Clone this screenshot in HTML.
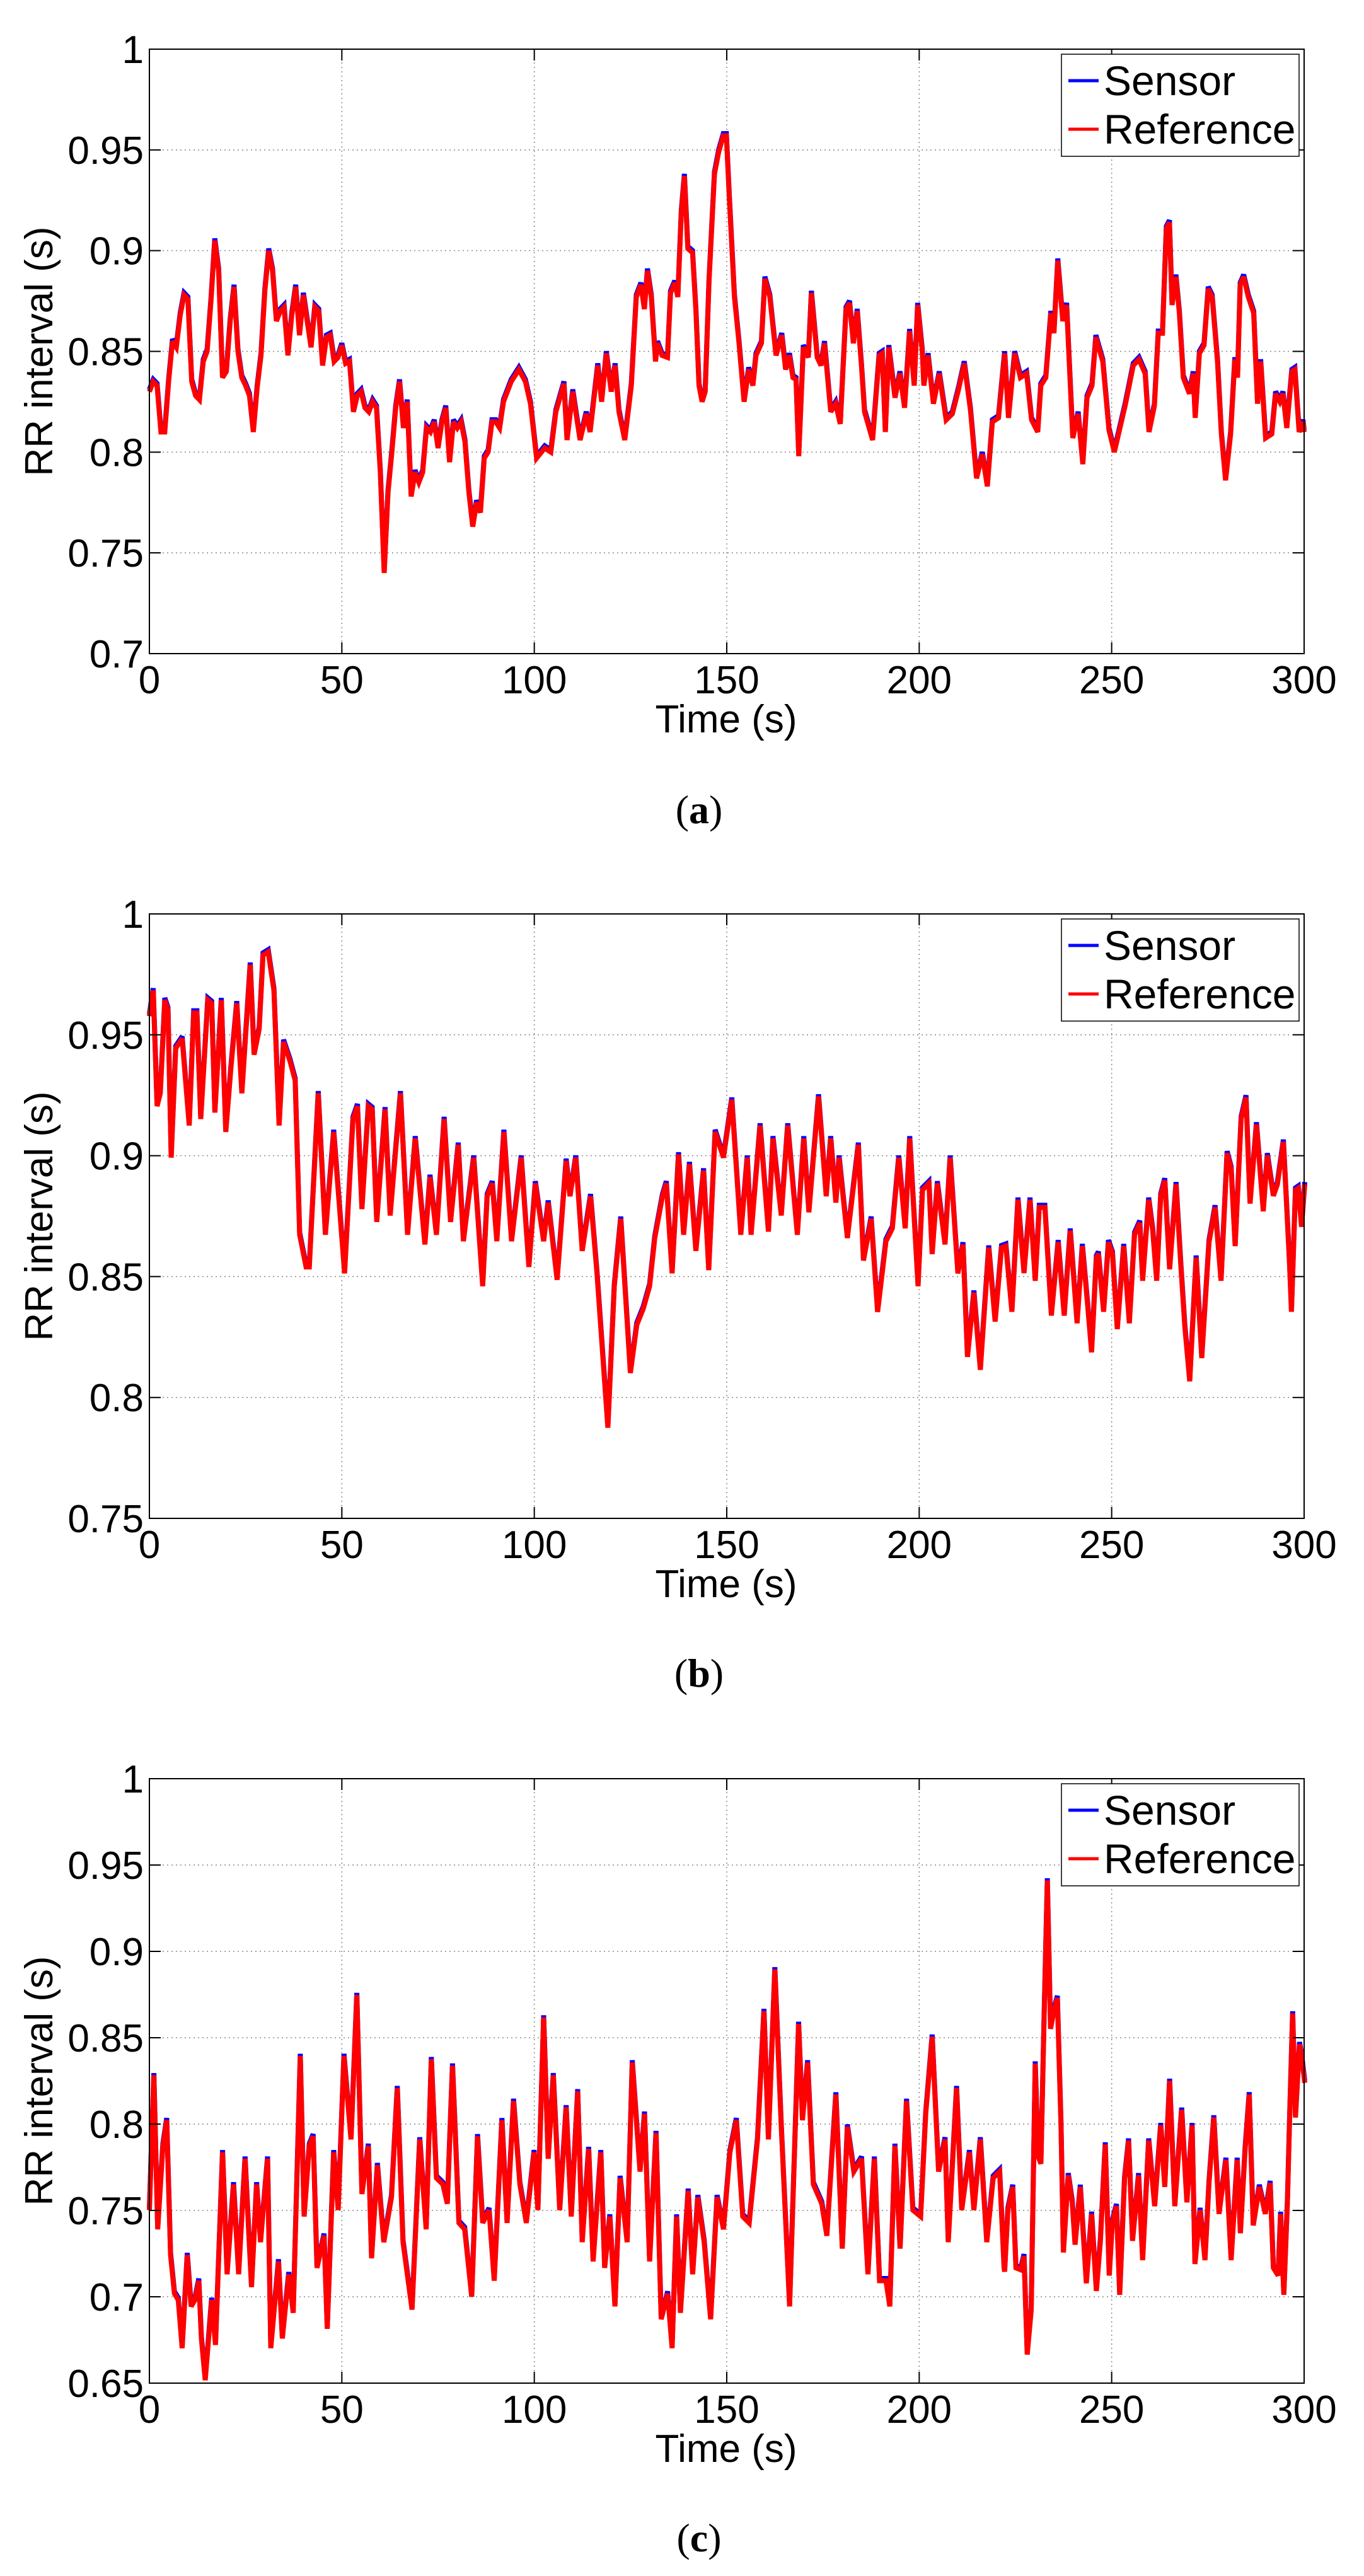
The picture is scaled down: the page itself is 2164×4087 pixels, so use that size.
<!DOCTYPE html>
<html><head><meta charset="utf-8"><style>
html,body{margin:0;padding:0;background:#fff;}
svg{display:block;}
text{font-family:"Liberation Sans",Arial,sans-serif;fill:#000;}
.cap{font-family:"Liberation Serif",serif;font-size:64px;}
</style></head><body>
<svg id="s" xmlns="http://www.w3.org/2000/svg" width="2164" height="4087" viewBox="0 0 2164 4087">
<rect width="2164" height="4087" fill="#fff"/>
<g id="g"></g>
<text class="cap" x="1109" y="1306" text-anchor="middle">(<tspan font-weight="bold">a</tspan>)</text>
<text class="cap" x="1109" y="2676" text-anchor="middle">(<tspan font-weight="bold">b</tspan>)</text>
<text class="cap" x="1109" y="4048" text-anchor="middle">(<tspan font-weight="bold">c</tspan>)</text>
</svg>
<script>
var A=[[0,.83],[1,.835],[2,.833],[3,.81],[4,.81],[5,.835],[6,.855],[7,.852],[8,.868],[9,.878],[10,.876],[11,.835],[12,.828],[13,.826],[14,.845],[15,.85],[16,.875],[17,.905],[18,.89],[19,.837],[20,.84],[21,.865],[22,.882],[23,.85],[24,.837],[25,.833],[26,.828],[27,.81],[28,.832],[29,.848],[30,.88],[31,.9],[32,.89],[33,.865],[34,.87],[35,.872],[36,.848],[37,.868],[38,.882],[39,.858],[40,.878],[41,.865],[42,.852],[43,.872],[44,.87],[45,.843],[46,.857],[47,.858],[48,.845],[49,.847],[50,.853],[51,.844],[52,.845],[53,.82],[54,.828],[55,.83],[56,.822],[57,.82],[58,.825],[59,.822],[60,.79],[61,.74],[62,.78],[63,.8],[64,.822],[65,.835],[66,.812],[67,.825],[68,.778],[69,.79],[70,.785],[71,.79],[72,.812],[73,.81],[74,.815],[75,.802],[76,.815],[77,.822],[78,.795],[79,.815],[80,.812],[81,.815],[82,.805],[83,.78],[84,.763],[85,.775],[86,.77],[87,.797],[88,.8],[89,.815],[90,.815],[91,.812],[92,.825],[93,.83],[94,.835],[96,.841],[97.7,.835],[99,.824],[100.6,.797],[102.7,.802],[104.3,.8],[105.6,.82],[107.7,.834],[108.5,.806],[110,.83],[111.9,.806],[113.5,.819],[114.5,.81],[116.5,.843],[117.5,.825],[118.7,.849],[120,.83],[121,.843],[122,.82],[123.5,.806],[125.2,.833],[126.5,.877],[127.7,.883],[128.6,.871],[129.4,.89],[130.4,.877],[131.5,.845],[132,.854],[133.2,.848],[134.6,.847],[135.4,.879],[136.5,.884],[137.3,.877],[138.2,.919],[139,.937],[139.9,.901],[141.1,.899],[142,.87],[142.8,.833],[143.6,.825],[144.4,.83],[145.4,.885],[146.8,.938],[147.9,.949],[149.1,.957],[149.9,.957],[150.7,.925],[152,.877],[153.2,.854],[154.5,.825],[155.7,.841],[156.8,.833],[157.6,.848],[159,.854],[159.9,.886],[161.2,.877],[162.8,.848],[164.3,.858],[165.3,.841],[166.3,.848],[167.2,.837],[168,.836],[168.7,.798],[169.9,.852],[171.2,.847],[172,.879],[173.5,.847],[174.5,.843],[175.4,.854],[177,.82],[178.3,.824],[179.5,.814],[181,.871],[181.9,.874],[182.9,.854],[183.9,.87],[185,.843],[185.8,.82],[187.9,.806],[189.6,.848],[190.4,.849],[191.2,.81],[192.1,.852],[193.7,.827],[195,.839],[196.2,.822],[197.5,.86],[198.7,.833],[199.6,.873],[200.8,.85],[201.2,.833],[202.3,.848],[203.7,.824],[205.2,.839],[207,.816],[208.6,.819],[210.2,.831],[211.7,.844],[213.3,.821],[214.9,.787],[216.4,.799],[217.7,.783],[219,.815],[220.6,.817],[222.2,.849],[223.2,.817],[224.8,.849],[226.3,.837],[227.9,.839],[229.2,.816],[230.8,.81],[231.6,.833],[232.9,.837],[234.2,.869],[235,.859],[236,.895],[237.3,.865],[238.3,.873],[239.9,.807],[241.3,.819],[242.5,.794],[243.6,.827],[244.9,.833],[245.9,.857],[247.7,.845],[249.3,.811],[250.7,.8],[251.9,.81],[253.5,.823],[255.6,.843],[257.1,.846],[258.7,.839],[259.7,.81],[261.1,.823],[262.1,.859],[263.2,.859],[264.2,.911],[265,.914],[265.7,.873],[266.7,.887],[267.6,.869],[268.6,.837],[270.2,.829],[271.2,.839],[271.7,.817],[272.8,.849],[274,.853],[275.1,.881],[276.1,.877],[277.5,.845],[278.5,.809],[279.6,.786],[280.9,.809],[282,.846],[282.7,.837],[283.4,.883],[284.3,.887],[285.5,.877],[286.9,.869],[287.9,.824],[288.7,.845],[290,.807],[291.6,.809],[292.6,.829],[293.7,.825],[294.5,.829],[295.5,.812],[296.8,.84],[297.6,.841],[298.7,.81],[299.7,.815],[300,.81]];
var Bz5=[[231,600],[237,560],[243,740],[248,720],[255,575],[260,590],[265,820],[272,650],[282,635],[293,770],[300,595],[305,595],[311,760],[322,575],[328,580],[333,750],[343,575],[350,780],[358,680],[367,580],[375,720],[388,520],[394,660],[402,620],[408,505],[416,500],[425,560],[433,770],[440,640],[450,670],[458,700],[465,940],[475,990],[480,990],[494,720],[505,940],[518,780],[535,1000],[548,760],[555,740],[562,900],[572,740],[578,745],[585,920],[598,745],[606,910],[622,720],[633,940],[645,790],[660,955],[668,850],[678,940],[690,760],[700,920],[712,800],[720,950],[736,820],[750,1020],[757,880],[765,860],[772,950],[783,780],[795,950],[810,820],[822,990],[832,860],[845,950],[852,890],[866,1010],[880,825],[886,880],[895,820],[905,965],[918,880],[928,1000],[945,1240],[955,1020],[965,915],[980,1155],[990,1080],[1000,1055],[1010,1020],[1018,945],[1030,880],[1036,860],[1045,1000],[1055,815],[1063,940],[1072,830],[1082,965],[1094,840],[1102,995],[1112,780],[1125,820],[1138,730],[1152,940],[1162,820],[1168,940],[1182,770],[1195,935],[1202,790],[1215,910],[1225,770],[1240,940],[1250,790],[1258,905],[1273,725],[1285,880],[1292,790],[1300,890],[1305,820],[1318,945],[1335,800],[1343,980],[1355,915],[1365,1060],[1378,950],[1388,930],[1398,820],[1408,930],[1415,790],[1428,1020],[1435,870],[1445,860],[1450,970],[1458,860],[1470,955],[1478,820],[1490,1000],[1498,955],[1505,1130],[1515,1030],[1525,1150],[1538,960],[1548,1075],[1558,960]];
var B=Bz5.map(function(p){return [(p[0]-231)/5.994,1-(p[1]-441)*0.05/188];});
var Bz8=[[775,860],[790,1030],[805,740],[820,930],[835,740],[848,950],[858,760],[872,760],[888,1040],[905,850],[920,1040],[935,820],[952,1060],[965,860],[978,1010],[988,1135],[1000,890],[1005,880],[1018,1030],[1030,850],[1040,880],[1052,1075],[1068,860],[1082,1060],[1095,830],[1108,800],[1115,950],[1130,740],[1140,820],[1150,950],[1160,730],[1170,690],[1182,920],[1198,700],[1210,910],[1220,1070],[1232,1210],[1248,890],[1262,1150],[1280,850],[1295,760],[1310,950],[1325,620],[1335,660],[1345,860],[1360,530],[1372,475],[1382,750],[1398,545],[1415,770],[1425,625],[1440,730],[1450,700],[1465,590],[1480,900],[1485,1030],[1495,715],[1502,710],[1510,810],[1518,700]];
Bz8.forEach(function(p){B.push([150+(p[0]-81)/9.57,.9-(p[1]-626)*.05/313]);});
var Cz6=[[231,1000],[238,790],[244,1030],[252,900],[258,860],[264,1070],[270,1130],[276,1140],[282,1215],[290,1070],[296,1150],[302,1140],[308,1110],[312,1200],[318,1265],[328,1140],[334,1210],[345,910],[352,1100],[362,960],[370,1100],[380,920],[390,1120],[398,960],[404,1050],[415,920],[420,1215],[432,1080],[438,1200],[448,1100],[455,1160],[466,760],[472,1010],[480,900],[486,885],[492,1090],[503,1040],[508,1185],[518,910],[525,1000],[534,760],[545,890],[554,665],[562,975],[572,900],[577,1075],[586,930],[596,1050],[608,980],[617,810],[626,1050],[640,1155],[652,890],[662,1030],[670,765],[678,950],[688,960],[695,990],[703,775],[713,1020],[722,1030],[733,1135],[742,885],[750,1020],[760,1000],[768,1110],[780,860],[788,1020],[798,830],[808,960],[818,1020],[830,910],[836,1000],[845,700],[852,920],[860,790],[870,1000],[880,840],[888,1010],[898,815],[905,1050],[915,905],[922,1080],[934,910],[940,1090],[948,1010],[956,1150],[964,950],[975,1050],[983,770],[995,940],[1002,850],[1010,1080],[1020,880],[1028,1170],[1038,1130],[1045,1215],[1052,1010],[1058,1160],[1070,970],[1077,1100],[1085,980],[1095,1050],[1105,1170],[1115,980],[1125,1030],[1135,910],[1145,860],[1155,1010],[1165,1020],[1178,890],[1188,690],[1195,890],[1205,625],[1215,870],[1222,1020],[1228,1150],[1242,710],[1248,860],[1256,770],[1265,960],[1278,990],[1286,1040],[1300,820],[1310,1060],[1318,870],[1328,940],[1340,920],[1350,1100],[1360,920],[1368,1110],[1378,1110],[1384,1150],[1392,900],[1400,1060],[1410,830],[1420,1000],[1432,1010],[1440,850],[1450,730],[1460,940],[1470,890],[1475,1050],[1488,810],[1496,1000],[1508,910],[1515,1000],[1525,890],[1535,1050],[1545,950],[1555,940],[1562,1090]];
var C=Cz6.map(function(p){return [(p[0]-231)/5.994,1-(p[1]-328)*0.05/134.5];});
var Cz9=[[772,1280],[780,1120],[792,1060],[800,1270],[812,1275],[820,1240],[828,1495],[838,1380],[848,740],[855,980],[862,1000],[870,620],[878,265],[886,650],[895,600],[903,570],[912,900],[918,1230],[930,1030],[940,1100],[947,1210],[960,1060],[975,1310],[988,1130],[1000,1330],[1010,1200],[1022,950],[1032,1290],[1040,1150],[1050,1110],[1058,1340],[1070,1040],[1080,940],[1090,1200],[1105,1030],[1115,1250],[1130,940],[1145,1110],[1160,900],[1170,1060],[1182,785],[1195,1110],[1212,860],[1225,1100],[1238,900],[1245,1260],[1258,1120],[1270,1250],[1280,1050],[1292,880],[1305,1130],[1322,990],[1335,1250],[1350,990],[1358,1180],[1370,960],[1380,820],[1390,1160],[1405,1060],[1420,1130],[1432,1050],[1440,1270],[1452,1290],[1458,1130],[1466,1340],[1475,1100],[1480,900],[1488,610],[1495,880],[1505,690],[1510,720],[1518,790]];
Cz9.forEach(function(p){C.push([150+(p[0]-81)/9.57,.9-(p[1]-449)*.05/224]);});

var NS="http://www.w3.org/2000/svg";
var g=document.getElementById("g");
function el(t,a,txt){var e=document.createElementNS(NS,t);for(var k in a)e.setAttribute(k,a[k]);if(txt!==undefined)e.textContent=txt;g.appendChild(e);return e;}
var X0=237,X1=2069,H=959;
function plot(top,ymin,data){
  var bot=top+H;
  function px(t){return X0+(X1-X0)*t/300;}
  function py(v){return bot-(v-ymin)/(1-ymin)*H;}
  var nY=Math.round((1-ymin)/0.05);
  for(var i=1;i<6;i++){var x=px(i*50);el("line",{x1:x,y1:top,x2:x,y2:bot,stroke:"#888","stroke-width":1.5,"stroke-dasharray":"2,5"});}
  for(var j=1;j<nY;j++){var y=py(ymin+j*0.05);el("line",{x1:X0,y1:y,x2:X1,y2:y,stroke:"#888","stroke-width":1.5,"stroke-dasharray":"2,5"});}
  var pb="",pr="";
  data.forEach(function(p,k){var x=px(p[0]).toFixed(1),y=py(p[1]);pb+=(k?"L":"M")+x+","+(y-3.5).toFixed(1);pr+=(k?"L":"M")+x+","+y.toFixed(1);});
  el("path",{d:pb,fill:"none",stroke:"#0000ff","stroke-width":8,"stroke-linejoin":"miter","stroke-miterlimit":3});
  el("path",{d:pr,fill:"none",stroke:"#ff0000","stroke-width":8,"stroke-linejoin":"miter","stroke-miterlimit":3});
  el("rect",{x:X0,y:top,width:X1-X0,height:H,fill:"none",stroke:"#000","stroke-width":2});
  for(var i=0;i<=6;i++){var x=px(i*50);
    el("line",{x1:x,y1:bot,x2:x,y2:bot-18,stroke:"#000","stroke-width":2});
    el("line",{x1:x,y1:top,x2:x,y2:top+18,stroke:"#000","stroke-width":2});
    el("text",{x:x,y:bot+63,"font-size":62,"text-anchor":"middle"},String(i*50));}
  for(var j=0;j<=nY;j++){var v=ymin+j*0.05,y=py(v);
    el("line",{x1:X0,y1:y,x2:X0+18,y2:y,stroke:"#000","stroke-width":2});
    el("line",{x1:X1,y1:y,x2:X1-18,y2:y,stroke:"#000","stroke-width":2});
    var s=(Math.round(v*100)/100).toString();
    el("text",{x:228,y:y+22,"font-size":62,"text-anchor":"end"},s);}
  el("text",{x:1152,y:bot+125,"font-size":62,"text-anchor":"middle"},"Time (s)");
  el("text",{x:83,y:top+H/2,"font-size":62,"text-anchor":"middle",transform:"rotate(-90 83 "+(top+H/2)+")"},"RR interval (s)");
  el("rect",{x:1684,y:top+8,width:377,height:162,fill:"#fff",stroke:"#000","stroke-width":1.5});
  el("line",{x1:1695,y1:top+50,x2:1743,y2:top+50,stroke:"#0000ff","stroke-width":5});
  el("line",{x1:1695,y1:top+127,x2:1743,y2:top+127,stroke:"#ff0000","stroke-width":5});
  el("text",{x:1751,y:top+73,"font-size":66},"Sensor");
  el("text",{x:1751,y:top+150,"font-size":66},"Reference");
}
plot(78,0.7,A);
plot(1450,0.75,B);
plot(2822,0.65,C);
</script>
</body></html>
